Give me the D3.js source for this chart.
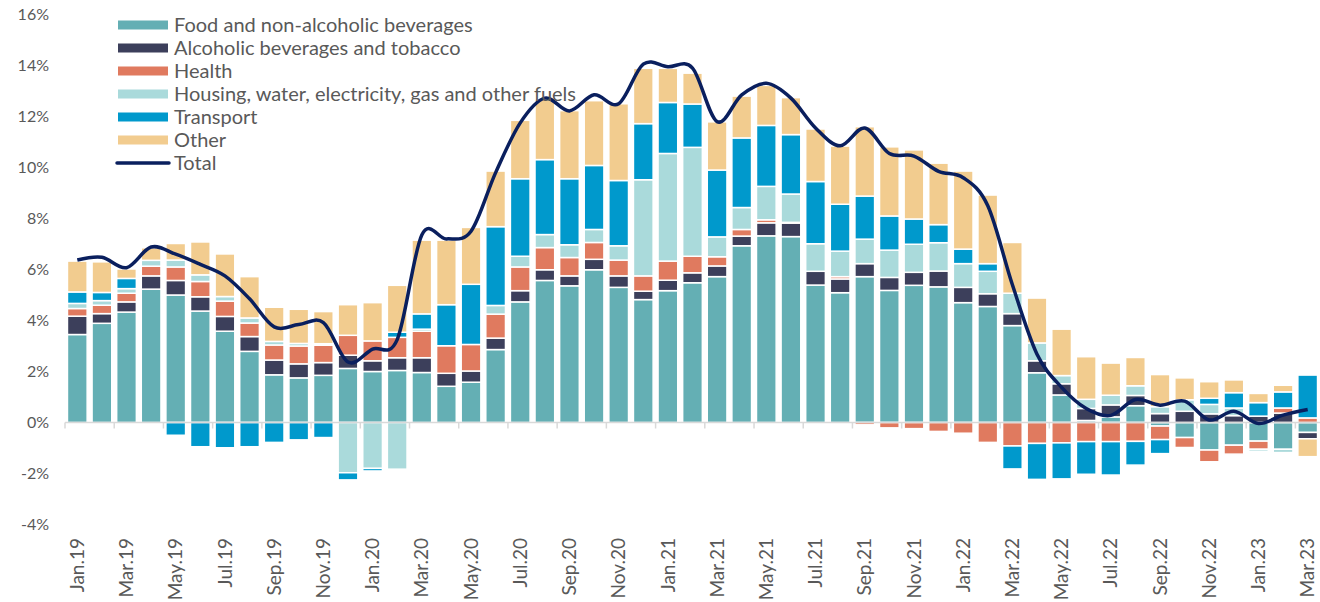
<!DOCTYPE html>
<html>
<head>
<meta charset="utf-8">
<script src="https://cdn.jsdelivr.net/npm/d3@7/dist/d3.min.js"></script>
<style>
  body { margin: 0; background: #fff; }
  text { font-family: Lato, "Open Sans", sans-serif; fill: #595959; }
</style>
</head>
<body>
<svg id="chart"></svg>
<script>
const months = ["Jan.19","Feb.19","Mar.19","Apr.19","May.19","Jun.19","Jul.19","Aug.19","Sep.19","Oct.19","Nov.19","Dec.19",
  "Jan.20","Feb.20","Mar.20","Apr.20","May.20","Jun.20","Jul.20","Aug.20","Sep.20","Oct.20","Nov.20","Dec.20",
  "Jan.21","Feb.21","Mar.21","Apr.21","May.21","Jun.21","Jul.21","Aug.21","Sep.21","Oct.21","Nov.21","Dec.21",
  "Jan.22","Feb.22","Mar.22","Apr.22","May.22","Jun.22","Jul.22","Aug.22","Sep.22","Oct.22","Nov.22","Dec.22",
  "Jan.23","Feb.23","Mar.23"];

const food = [3.45,3.89,4.33,5.23,5.0,4.37,3.58,2.79,1.87,1.75,1.85,2.12,
  2.0,2.04,1.96,1.42,1.58,2.86,4.73,5.57,5.36,5.99,5.3,4.82,
  5.17,5.48,5.72,6.93,7.32,7.29,5.39,5.09,5.72,5.18,5.38,5.32,
  4.7,4.55,3.8,1.95,1.08,0.08,0.22,0.66,-0.14,-0.59,-1.08,-0.89,
  -0.73,-1.05,-0.39];
const alcohol = [0.72,0.38,0.4,0.52,0.57,0.56,0.58,0.58,0.58,0.55,0.5,0.52,
  0.42,0.5,0.58,0.51,0.44,0.45,0.44,0.42,0.39,0.41,0.45,0.33,
  0.41,0.39,0.42,0.38,0.51,0.53,0.54,0.54,0.51,0.51,0.51,0.62,
  0.6,0.5,0.47,0.47,0.44,0.47,0.47,0.4,0.35,0.44,0.34,0.27,
  0.25,0.37,-0.25];
const health = [0.3,0.33,0.34,0.38,0.53,0.6,0.6,0.53,0.59,0.7,0.68,0.78,
  0.78,0.8,1.04,1.08,1.04,0.94,0.93,0.87,0.72,0.66,0.62,0.6,
  0.75,0.65,0.36,0.26,0.12,0.03,0,0.09,-0.09,-0.21,-0.24,-0.35,
  -0.42,-0.78,-0.92,-0.82,-0.8,-0.75,-0.75,-0.74,-0.53,-0.39,-0.46,-0.35,
  -0.32,0.2,0.18];
const housing = [0.2,0.18,0.18,0.23,0.27,0.26,0.18,0.2,0.14,0.1,0.06,-1.97,
  -1.8,-1.83,0.08,0,0,0.34,0.42,0.51,0.5,0.51,0.56,3.77,
  4.22,4.27,0.78,0.86,1.31,1.11,1.08,1.0,0.96,1.07,1.1,1.11,
  0.93,0.88,0.8,0.7,0.32,0.36,0.38,0.38,0.27,0.45,0.37,0.3,
  -0.08,-0.13,0];
const transport = [0.45,0.32,0.4,0,-0.5,-0.95,-0.99,-0.95,-0.78,-0.68,-0.59,-0.28,
  -0.1,0.2,0.6,1.61,2.36,3.09,3.04,2.94,2.59,2.51,2.56,2.2,
  2.0,1.7,2.62,2.73,2.39,2.33,2.44,1.84,1.69,1.34,0.99,0.71,
  0.57,0.3,-0.9,-1.41,-1.41,-1.28,-1.31,-0.93,-0.55,0,0.24,0.6,
  0.53,0.63,1.68];
const other = [1.21,1.2,0.37,0.49,0.65,1.29,1.67,1.62,1.34,1.34,1.26,1.2,
  1.5,1.84,2.89,2.53,2.23,2.18,2.29,2.37,2.67,2.54,3.01,2.17,
  1.34,1.21,1.89,1.64,1.57,1.45,2.06,2.28,2.72,2.71,2.71,2.41,
  3.06,2.69,1.99,1.76,1.82,1.67,1.26,1.11,1.26,0.86,0.65,0.5,
  0.36,0.26,-0.7];
const total = [6.37,6.48,6.07,6.88,6.6,6.2,5.75,4.85,3.75,3.84,3.92,2.37,
  2.88,3.25,7.35,7.2,7.5,9.8,11.75,12.72,12.22,12.85,12.5,14.05,
  13.95,13.9,11.8,12.85,13.3,12.72,11.55,10.85,11.55,10.55,10.45,9.85,
  9.6,8.5,5.4,2.68,1.38,0.55,0.28,0.9,0.68,0.84,0.1,0.44,
  -0.04,0.29,0.51];

const seriesNames = ["Food and non-alcoholic beverages", "Alcoholic beverages and tobacco", "Health",
  "Housing, water, electricity, gas and other fuels", "Transport", "Other"];
const yTicks = [-4, -2, 0, 2, 4, 6, 8, 10, 12, 14, 16];

const keys = ["food", "alcohol", "health", "housing", "transport", "other"];
const columns = [food, alcohol, health, housing, transport, other];
const colors = ["#64afb4", "#3c3f5b", "#e07a5f", "#aadadb", "#0099cc", "#f2cc8f"];

const data = months.map(function(m, i) {
  const row = { month: m, total: total[i] };
  keys.forEach(function(k, j) { row[k] = columns[j][i]; });
  return row;
});

const width = 1320, height = 602;
const svg = d3.select("#chart").attr("width", width).attr("height", height);

const x = d3.scaleBand()
  .domain(months)
  .range([65, 1320])
  .paddingInner(0.2)
  .paddingOuter(0.1);

const y = d3.scaleLinear()
  .domain([-4, 16])
  .range([524.5, 14.5]);

const color = d3.scaleOrdinal().domain(keys).range(colors);

const stack = d3.stack().keys(keys).offset(d3.stackOffsetDiverging);
const layers = stack(data);

svg.append("g")
  .selectAll("g")
  .data(layers)
  .enter().append("g")
  .attr("fill", function(d) { return color(d.key); })
  .selectAll("rect")
  .data(function(d) { return d.filter(function(p) { return p[1] !== p[0]; }); })
  .enter().append("rect")
  .attr("x", function(d) { return x(d.data.month); })
  .attr("y", function(d) { return y(Math.max(d[0], d[1])); })
  .attr("width", x.bandwidth())
  .attr("height", function(d) { return Math.abs(y(d[0]) - y(d[1])); })
  .attr("stroke", "#fff")
  .attr("stroke-width", 1.5);

// zero line with ticks every two months
const step = x.step();
svg.append("line")
  .attr("x1", x.range()[0]).attr("x2", x.range()[1])
  .attr("y1", y(0)).attr("y2", y(0))
  .attr("stroke", "#d9d9d9").attr("stroke-width", 1.5);

svg.append("g")
  .selectAll("line")
  .data(months.filter(function(d, i) { return i % 2 === 0; }))
  .enter().append("line")
  .attr("x1", function(d) { return x(d) - step * 0.1; })
  .attr("x2", function(d) { return x(d) - step * 0.1; })
  .attr("y1", y(0)).attr("y2", y(0) + 6)
  .attr("stroke", "#d9d9d9").attr("stroke-width", 1.5);

const line = d3.line()
  .x(function(d) { return x(d.month) + x.bandwidth() / 2; })
  .y(function(d) { return y(d.total); })
  .curve(d3.curveCatmullRom.alpha(0));

svg.append("path")
  .datum(data)
  .attr("fill", "none")
  .attr("stroke", "#0a1f5e")
  .attr("stroke-width", 3.5)
  .attr("stroke-linejoin", "round")
  .attr("d", line);

// y axis labels
const yAxis = svg.append("g")
  .attr("transform", "translate(49,0)")
  .call(d3.axisLeft(y).tickValues(yTicks).tickFormat(function(d) { return d + "%"; }).tickSize(0).tickPadding(0));
yAxis.select(".domain").remove();
yAxis.selectAll("text").style("font-size", "16px").style("font-family", null);

// x axis labels
const xAxis = svg.append("g")
  .attr("transform", "translate(0,538)")
  .call(d3.axisBottom(x).tickValues(months.filter(function(d, i) { return i % 2 === 0; })).tickSize(0));
xAxis.select(".domain").remove();
xAxis.selectAll("text")
  .attr("transform", "rotate(-90)")
  .attr("x", 0)
  .attr("y", 0)
  .attr("dy", ".35em")
  .style("text-anchor", "end")
  .style("font-size", "19px")
  .style("font-family", null);

// legend
const legend = svg.append("g");
const rowH = 23;
legend.selectAll("rect")
  .data(seriesNames)
  .enter().append("rect")
  .attr("x", 118)
  .attr("y", function(d, i) { return 25 + i * rowH - 4.5; })
  .attr("width", 50)
  .attr("height", 9)
  .attr("fill", function(d, i) { return colors[i]; });

legend.append("line")
  .attr("x1", 117).attr("x2", 169)
  .attr("y1", 25 + 6 * rowH).attr("y2", 25 + 6 * rowH)
  .attr("stroke", "#0a1f5e").attr("stroke-width", 3.5)
  .attr("stroke-linecap", "round");

legend.selectAll("text")
  .data(seriesNames.concat(["Total"]))
  .enter().append("text")
  .attr("x", 174)
  .attr("y", function(d, i) { return 25 + i * rowH; })
  .attr("dy", ".35em")
  .style("font-size", "20px")
  .text(function(d) { return d; });
</script>
</body>
</html>
